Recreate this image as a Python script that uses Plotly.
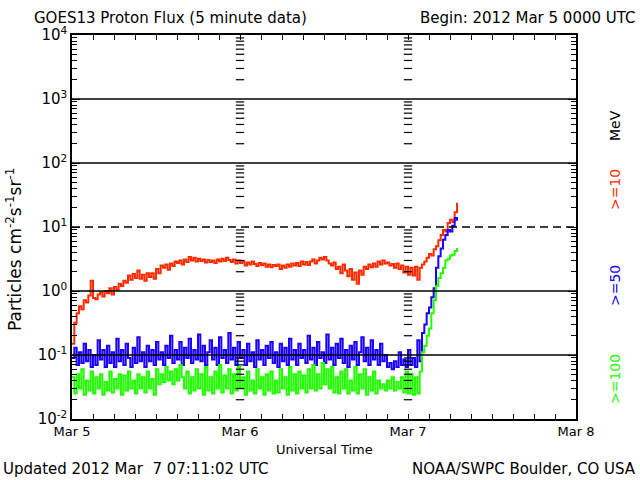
import pandas as pd
import plotly.graph_objects as go

# ---- data (5-minute GOES13 proton flux, resampled every 20 min) ----
start_time = "2012-03-05 00:00"
step = "20min"

flux_ge10 = [
    0.15, 0.32, 0.45, 0.58, 0.52, 0.72, 0.66, 0.85, 1.45, 0.78, 0.74, 0.88,
    0.95, 0.82, 1.0, 0.92, 1.1, 0.88, 1.15, 1.05, 1.3, 1.2, 1.45, 1.35,
    1.75, 1.5, 1.85, 1.6, 2.1, 1.55, 1.8, 1.45, 1.9, 1.65, 1.9, 1.55,
    2.2, 1.9, 2.5, 2.3, 2.6, 2.15, 2.7, 2.45, 2.9, 2.75, 3.0, 2.6,
    3.1, 2.85, 3.4, 3.0, 3.3, 2.9, 3.2, 2.95, 3.1, 2.8, 3.05, 2.85,
    3.0, 2.75, 3.1, 2.9, 3.2, 2.95, 3.3, 3.05, 2.85, 3.1, 2.7, 3.0,
    2.75, 2.9, 2.5, 2.8, 2.6, 2.9, 2.65, 2.45, 2.75, 2.55, 2.7, 2.4,
    2.6, 2.35, 2.55, 2.45, 2.6, 2.2, 2.5, 2.3, 2.6, 2.4, 2.7, 2.5,
    2.75, 2.45, 2.9, 2.6, 2.85, 2.55, 2.9, 3.1, 2.7, 3.0, 3.3, 3.1,
    3.4, 3.0, 2.7, 2.5, 2.8, 2.2, 2.4, 1.9, 2.6, 2.1, 1.7, 2.2,
    1.5, 1.95, 1.3, 2.1, 1.8, 2.4, 2.2, 2.6, 2.35, 2.7, 2.4, 2.9,
    2.6, 3.0, 2.7, 2.8, 2.5, 2.65, 2.3, 2.7, 2.2, 2.5, 1.95, 2.4,
    1.8, 2.3, 1.75, 2.4, 1.5, 2.3, 2.6, 2.9, 3.3, 3.8, 3.6, 4.5,
    5.0, 6.2, 7.5, 9.0, 8.5, 11.5, 13.0, 12.0, 17.0, 24.0,
]

flux_ge50 = [
    0.09, 0.13, 0.07, 0.11, 0.075, 0.15, 0.08, 0.12, 0.065, 0.10, 0.07, 0.17,
    0.085, 0.12, 0.065, 0.14, 0.075, 0.11, 0.065, 0.18, 0.08, 0.12, 0.07, 0.15,
    0.09, 0.065, 0.13, 0.075, 0.19, 0.08, 0.11, 0.065, 0.14, 0.08, 0.12, 0.07,
    0.16, 0.085, 0.11, 0.07, 0.14, 0.09, 0.20, 0.075, 0.12, 0.085, 0.16, 0.07,
    0.13, 0.09, 0.18, 0.075, 0.12, 0.085, 0.21, 0.08, 0.14, 0.07, 0.11, 0.17,
    0.085, 0.13, 0.07, 0.19, 0.09, 0.12, 0.075, 0.22, 0.085, 0.13, 0.07, 0.16,
    0.09, 0.12, 0.07, 0.15, 0.08, 0.11, 0.065, 0.17, 0.085, 0.12, 0.07, 0.14,
    0.09, 0.16, 0.075, 0.11, 0.065, 0.15, 0.08, 0.13, 0.07, 0.18, 0.085, 0.12,
    0.07, 0.15, 0.09, 0.12, 0.075, 0.20, 0.085, 0.13, 0.07, 0.16, 0.09, 0.11,
    0.075, 0.21, 0.085, 0.13, 0.07, 0.15, 0.09, 0.18, 0.075, 0.12, 0.065, 0.14,
    0.085, 0.16, 0.07, 0.11, 0.19, 0.08, 0.13, 0.07, 0.17, 0.085, 0.12, 0.07,
    0.15, 0.08, 0.10, 0.065, 0.075, 0.06, 0.08, 0.065, 0.11, 0.07, 0.085, 0.065,
    0.12, 0.07, 0.09, 0.065, 0.17, 0.08, 0.22, 0.30, 0.45, 0.55, 0.8, 1.1,
    2.3, 3.5, 4.6, 6.3, 7.5, 9.0, 8.5, 10.5, 13.8, 12.5,
]

flux_ge100 = [
    0.045, 0.025, 0.05, 0.03, 0.06, 0.024, 0.04, 0.028, 0.055, 0.025, 0.045, 0.03,
    0.05, 0.024, 0.038, 0.028, 0.055, 0.026, 0.042, 0.03, 0.05, 0.024, 0.048, 0.028,
    0.055, 0.03, 0.04, 0.025, 0.05, 0.03, 0.045, 0.026, 0.055, 0.03, 0.042, 0.024,
    0.06, 0.035, 0.05, 0.038, 0.065, 0.04, 0.055, 0.035, 0.06, 0.04, 0.07, 0.045,
    0.03, 0.055, 0.025, 0.045, 0.028, 0.06, 0.03, 0.05, 0.024, 0.065, 0.028, 0.045,
    0.025, 0.055, 0.03, 0.07, 0.026, 0.048, 0.03, 0.06, 0.025, 0.05, 0.028, 0.065,
    0.03, 0.045, 0.024, 0.055, 0.028, 0.04, 0.025, 0.06, 0.03, 0.045, 0.024, 0.05,
    0.028, 0.055, 0.025, 0.04, 0.026, 0.06, 0.03, 0.045, 0.024, 0.065, 0.028, 0.05,
    0.025, 0.055, 0.03, 0.048, 0.026, 0.06, 0.03, 0.07, 0.028, 0.05, 0.03, 0.075,
    0.035, 0.06, 0.03, 0.065, 0.026, 0.045, 0.025, 0.055, 0.03, 0.06, 0.025, 0.04,
    0.028, 0.065, 0.025, 0.05, 0.03, 0.06, 0.024, 0.045, 0.028, 0.055, 0.025, 0.04,
    0.03, 0.035, 0.028, 0.04, 0.03, 0.045, 0.028, 0.038, 0.03, 0.045, 0.026, 0.055,
    0.025, 0.05, 0.024, 0.045, 0.025, 0.055, 0.11, 0.14, 0.2, 0.26, 0.45, 0.72,
    1.2, 1.6, 1.9, 2.3, 3.0, 3.2, 3.6, 3.7, 4.2, 4.7,
]

series_names = [">=10", ">=50", ">=100"]
series_colors = ["#ff2a00", "#1a00ff", "#22ff00"]
day_ticks = ["2012-03-05", "2012-03-06", "2012-03-07", "2012-03-08"]
day_labels = ["Mar 5", "Mar 6", "Mar 7", "Mar 8"]
decades = [-2, -1, 0, 1, 2, 3, 4]
decade_labels = ["10<sup>-2</sup>", "10<sup>-1</sup>", "10<sup>0</sup>", "10<sup>1</sup>",
                 "10<sup>2</sup>", "10<sup>3</sup>", "10<sup>4</sup>"]
solid_grid = [1e-1, 1e0, 1e2, 1e3]
dashed_grid = [1e1]

times = pd.date_range(start_time, periods=len(flux_ge10), freq=step)

FONT = "DejaVu Sans"
fig = go.Figure()

for name, vals, col in zip(series_names, [flux_ge10, flux_ge50, flux_ge100], series_colors):
    fig.add_trace(go.Scatter(x=times, y=vals, mode="lines", name=name,
                             line=dict(color=col, width=2, shape="hv"),
                             showlegend=False, hoverinfo="skip"))

minor_vals = [m * 10 ** k for k in decades[:-1] for m in range(2, 10)]

# minor tick columns at the interior day boundaries
col_x, col_y = [], []
for d in day_ticks[1:3]:
    for v in minor_vals:
        col_x.append(d)
        col_y.append(v)
fig.add_trace(go.Scatter(x=col_x, y=col_y, mode="markers", showlegend=False, hoverinfo="skip",
                         marker=dict(symbol="line-ew-open", size=6, color="black",
                                     line=dict(color="black", width=1.2))))

shapes = []
for v in solid_grid:
    shapes.append(dict(type="line", xref="paper", x0=0, x1=1, yref="y", y0=v, y1=v,
                       line=dict(color="black", width=1.5)))
for v in dashed_grid:
    shapes.append(dict(type="line", xref="paper", x0=0, x1=1, yref="y", y0=v, y1=v,
                       line=dict(color="black", width=1.5, dash="8px,5px")))

# plot area in pixels: x 72..576, y 35..419
def px(x):
    return (x - 72) / 504.0

def py(y):
    return (419 - y) / 384.0

ann = [
    dict(text="GOES13 Proton Flux (5 minute data)", x=px(32), y=py(18), xanchor="left",
         yanchor="middle", font=dict(size=15)),
    dict(text="Begin: 2012 Mar 5 0000 UTC", x=px(638), y=py(18), xanchor="right",
         yanchor="middle", font=dict(size=15)),
    dict(text="Particles cm<sup>-2</sup>s<sup>-1</sup>sr<sup>-1</sup>", x=px(14), y=py(250),
         textangle=-90, xanchor="center", yanchor="middle", font=dict(size=17)),
    dict(text="MeV", x=px(615), y=py(126), textangle=-90, xanchor="center", yanchor="middle",
         font=dict(size=14, color="black")),
    dict(text="Universal Time", x=0.5, y=py(449), xanchor="center", yanchor="middle",
         font=dict(size=13)),
    dict(text="Updated 2012 Mar\u00a0 7 07:11:02 UTC", x=px(1), y=py(469), xanchor="left",
         yanchor="middle", font=dict(size=15)),
    dict(text="NOAA/SWPC Boulder, CO USA", x=px(638), y=py(469), xanchor="right",
         yanchor="middle", font=dict(size=15)),
]
for name, col, yc in zip(series_names, series_colors, [190, 286, 379]):
    ann.append(dict(text=name, x=px(615), y=py(yc), textangle=-90, xanchor="center",
                    yanchor="middle", font=dict(size=14, color=col)))
for a in ann:
    a.update(xref="paper", yref="paper", showarrow=False)
    a.setdefault("font", {})
    a["font"].setdefault("family", FONT)
    a["font"].setdefault("color", "black")

fig.update_layout(
    width=640, height=480,
    margin=dict(l=72, r=64, t=35, b=61, pad=0),
    paper_bgcolor="white", plot_bgcolor="white",
    font=dict(family=FONT, color="black"),
    shapes=shapes, annotations=ann,
    xaxis=dict(range=[day_ticks[0], day_ticks[-1]], tickmode="array", tickvals=day_ticks,
               ticktext=day_labels, ticks="inside", ticklen=5, tickcolor="black",
               showgrid=False, zeroline=False, showline=True, linecolor="black",
               linewidth=1.5, mirror="ticks", tickfont=dict(size=13),
               minor=dict(dtick=3 * 3600 * 1000, ticks="inside", ticklen=5,
                          tickcolor="black", showgrid=False)),
    yaxis=dict(type="log", range=[-2, 4], tickmode="array",
               tickvals=[10 ** k for k in decades], ticktext=decade_labels,
               ticks="inside", ticklen=8, tickcolor="black",
               showgrid=False, zeroline=False, showline=True, linecolor="black",
               linewidth=1.5, mirror="ticks", tickfont=dict(size=15),
               minor=dict(tickmode="array", tickvals=minor_vals, ticks="inside", ticklen=5,
                          tickcolor="black", showgrid=False)),
)

fig.write_html("out.html", config={"displayModeBar": False},
               post_script="document.body.style.margin='0px';")
